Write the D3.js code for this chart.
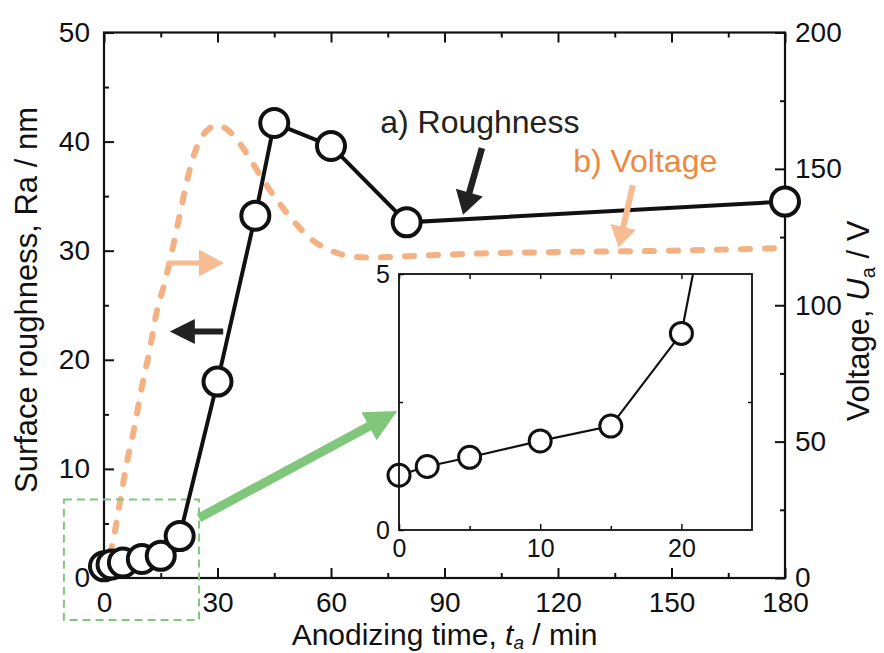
<!DOCTYPE html>
<html><head><meta charset="utf-8">
<script src="https://cdn.jsdelivr.net/npm/d3@7"></script>
<style>
html,body{margin:0;padding:0;background:#fff;}
svg text{font-family:"Liberation Sans",Arial,sans-serif;fill:#111;}
</style></head><body>
<svg id="chart" width="884" height="653"></svg>
<script>
// ---- data ----
const timeRa = [0, 2, 5, 10, 15, 20, 30, 40, 45, 60, 80, 180];
const ra = [1.07, 1.24, 1.42, 1.74, 2.03, 3.84, 18.0, 33.2, 41.7, 39.6, 32.6, 34.5];
const timeV = [0, 1, 2, 3, 4, 6, 8, 10, 12, 14, 16, 18, 20, 22, 24, 26, 28, 30, 32, 35, 38, 42, 46, 50, 55, 60, 65, 70, 80, 100, 120, 150, 180];
const voltage = [0, 5, 11, 18, 26, 42, 55, 70, 83, 98, 108, 120, 133, 146, 156, 162, 165, 166, 165, 161, 155, 146, 138, 131, 124, 120, 118, 117.5, 118, 119, 119.5, 120, 121];
const xTicks = [0, 30, 60, 90, 120, 150, 180];
const xMinor = [15, 45, 75, 105, 135, 165];
const yLeftTicks = [0, 10, 20, 30, 40, 50];
const yLeftMinor = [5, 15, 25, 35, 45];
const yRightTicks = [0, 50, 100, 150, 200];
const yRightMinor = [25, 75, 125, 175];
const insetXTicks = [0, 10, 20];
const insetXMinor = [5, 15];
const insetYTicks = [0, 5];
const insetYMinor = [2.5];
const labelRoughness = "a) Roughness";
const labelVoltage = "b) Voltage";

const svg = d3.select("#chart");
const x = d3.scaleLinear().domain([0, 180]).range([104, 785]);
const yL = d3.scaleLinear().domain([0, 50]).range([578, 32.5]);
const yR = d3.scaleLinear().domain([0, 200]).range([578, 32.5]);

const INK = "#111";
const PEACH = "#F4B183";
const PEACH_ARROW = "#F8BC92";
const ORANGE_TXT = "#F0883E";
const GREEN = "#80C77B";

function styleAxis(g, w) {
  g.select(".domain").remove();
  g.selectAll(".tick line").attr("stroke", INK).attr("stroke-width", w);
  g.selectAll(".tick text").attr("fill", INK);
}

// ---- main axes ----
const fs = 28;
svg.append("g").attr("transform", `translate(0,${yL(0)})`)
  .call(d3.axisBottom(x).tickValues(xTicks).tickSize(-10).tickPadding(14))
  .call(g => styleAxis(g, 2)).attr("font-size", fs);
svg.append("g").attr("transform", `translate(0,${yL(0)})`)
  .call(d3.axisBottom(x).tickValues(xMinor).tickSize(-5).tickFormat(""))
  .call(g => styleAxis(g, 2));
svg.append("g").attr("transform", `translate(0,${yL(50)})`)
  .call(d3.axisTop(x).tickValues(xTicks).tickSize(-10).tickFormat(""))
  .call(g => styleAxis(g, 2));
svg.append("g").attr("transform", `translate(0,${yL(50)})`)
  .call(d3.axisTop(x).tickValues(xMinor).tickSize(-5).tickFormat(""))
  .call(g => styleAxis(g, 2));
svg.append("g").attr("transform", `translate(${x(0)},0)`)
  .call(d3.axisLeft(yL).tickValues(yLeftTicks).tickSize(-10).tickPadding(14))
  .call(g => styleAxis(g, 2)).attr("font-size", fs);
svg.append("g").attr("transform", `translate(${x(0)},0)`)
  .call(d3.axisLeft(yL).tickValues(yLeftMinor).tickSize(-5).tickFormat(""))
  .call(g => styleAxis(g, 2));
svg.append("g").attr("transform", `translate(${x(180)},0)`)
  .call(d3.axisRight(yR).tickValues(yRightTicks).tickSize(-10).tickPadding(10))
  .call(g => styleAxis(g, 2)).attr("font-size", fs);
svg.append("g").attr("transform", `translate(${x(180)},0)`)
  .call(d3.axisRight(yR).tickValues(yRightMinor).tickSize(-5).tickFormat(""))
  .call(g => styleAxis(g, 2));

svg.append("rect").attr("x", x(0)).attr("y", yL(50))
  .attr("width", x(180) - x(0)).attr("height", yL(0) - yL(50))
  .attr("fill", "none").attr("stroke", INK).attr("stroke-width", 2.2);

// axis titles
const tfs = 31;
const xt = svg.append("text").attr("x", (x(0) + x(180)) / 2).attr("y", 645)
  .attr("text-anchor", "middle").attr("font-size", 30);
xt.append("tspan").text("Anodizing time, ");
xt.append("tspan").attr("font-style", "italic").text("t");
xt.append("tspan").attr("font-size", 19).attr("dy", 4).attr("font-style", "italic").text("a");
xt.append("tspan").attr("dy", -4).text(" / min");

svg.append("text").attr("transform", `translate(37,300) rotate(-90)`)
  .attr("text-anchor", "middle").attr("font-size", tfs).text("Surface roughness, Ra / nm");

const yt = svg.append("text").attr("transform", `translate(869,321) rotate(-90)`)
  .attr("text-anchor", "middle").attr("font-size", tfs);
yt.append("tspan").text("Voltage, ");
yt.append("tspan").attr("font-style", "italic").text("U");
yt.append("tspan").attr("font-size", 20).attr("dy", 6).text("a");
yt.append("tspan").attr("dy", -6).text(" / V");

// ---- voltage dashed curve ----
const vLine = d3.line().x((d, i) => x(timeV[i])).y(d => yR(d)).curve(d3.curveMonotoneX);
svg.append("path").datum(voltage).attr("d", vLine)
  .attr("fill", "none").attr("stroke", PEACH).attr("stroke-width", 6)
  .attr("stroke-dasharray", "9,15").attr("stroke-linecap", "round");

// ---- green dashed box ----
svg.append("rect").attr("x", x(-10.6)).attr("y", yL(7.2))
  .attr("width", x(25.1) - x(-10.6)).attr("height", yL(-3.85) - yL(7.2))
  .attr("fill", "none").attr("stroke", GREEN).attr("stroke-width", 2)
  .attr("stroke-dasharray", "8,5");

function arrow(x1, y1, x2, y2, sw, hl, hw, color) {
  const dx = x2 - x1, dy = y2 - y1, L = Math.hypot(dx, dy);
  const ux = dx / L, uy = dy / L, px = -uy, py = ux;
  const bx = x2 - ux * hl, by = y2 - uy * hl;
  const pts = [
    [x1 + px * sw / 2, y1 + py * sw / 2],
    [bx + px * sw / 2, by + py * sw / 2],
    [bx + px * hw / 2, by + py * hw / 2],
    [x2, y2],
    [bx - px * hw / 2, by - py * hw / 2],
    [bx - px * sw / 2, by - py * sw / 2],
    [x1 - px * sw / 2, y1 - py * sw / 2]
  ];
  svg.append("polygon").attr("points", pts.map(p => p.join(",")).join(" ")).attr("fill", color);
}

// ---- main roughness line + markers ----
const rLine = d3.line().x((d, i) => x(timeRa[i])).y(d => yL(d));
svg.append("path").datum(ra).attr("d", rLine)
  .attr("fill", "none").attr("stroke", INK).attr("stroke-width", 4);
svg.append("g").selectAll("circle").data(ra).join("circle")
  .attr("cx", (d, i) => x(timeRa[i])).attr("cy", d => yL(d)).attr("r", 14)
  .attr("fill", "#fff").attr("stroke", INK).attr("stroke-width", 4);

arrow(x(25.1), yL(5.5), x(77.5), yL(15.3), 9, 32, 32, GREEN);

// annotation arrows
arrow(x(31.5), yL(22.6), x(17.4), yL(22.6), 6, 25, 25, "#222");
arrow(x(16.7), yR(115.5), x(31.7), yR(115.5), 5, 25, 27, PEACH_ARROW);
arrow(x(99.9), yL(39.4), x(94.9), yL(33.3), 6.5, 23, 28, "#222");
arrow(x(139.8), yL(36.0), x(136.0), yL(30.3), 6, 21, 26, PEACH_ARROW);

svg.append("text").attr("x", x(73)).attr("y", yL(40.8)).attr("font-size", 32)
  .style("fill", "#222").text(labelRoughness);
svg.append("text").attr("x", x(124)).attr("y", yL(37.2)).attr("font-size", 32)
  .style("fill", ORANGE_TXT).text(labelVoltage);

// ---- inset ----
const ix = d3.scaleLinear().domain([0, 25]).range([399, 752]);
const iy = d3.scaleLinear().domain([0, 5]).range([530, 274]);
const ins = svg.append("g");
ins.append("rect").attr("x", ix(0)).attr("y", iy(5)).attr("width", ix(25) - ix(0))
  .attr("height", iy(0) - iy(5)).attr("fill", "#fff");
const ifs = 25;
ins.append("g").attr("transform", `translate(0,${iy(0)})`)
  .call(d3.axisBottom(ix).tickValues(insetXTicks).tickSize(-6).tickPadding(9).tickFormat(d3.format("d")))
  .call(g => styleAxis(g, 1.5)).attr("font-size", ifs);
ins.append("g").attr("transform", `translate(0,${iy(0)})`)
  .call(d3.axisBottom(ix).tickValues(insetXMinor).tickSize(-4).tickFormat(""))
  .call(g => styleAxis(g, 1.5));
ins.append("g").attr("transform", `translate(0,${iy(5)})`)
  .call(d3.axisTop(ix).tickValues(insetXTicks.concat(insetXMinor)).tickSize(-5).tickFormat(""))
  .call(g => styleAxis(g, 1.5));
ins.append("g").attr("transform", `translate(${ix(0)},0)`)
  .call(d3.axisLeft(iy).tickValues(insetYTicks).tickSize(-5).tickPadding(9).tickFormat(d3.format("d")))
  .call(g => styleAxis(g, 1.5)).attr("font-size", ifs);
ins.append("g").attr("transform", `translate(${ix(0)},0)`)
  .call(d3.axisLeft(iy).tickValues(insetYMinor).tickSize(-4).tickFormat(""))
  .call(g => styleAxis(g, 1.5));
ins.append("g").attr("transform", `translate(${ix(25)},0)`)
  .call(d3.axisRight(iy).tickValues(insetYMinor).tickSize(-4).tickFormat(""))
  .call(g => styleAxis(g, 1.5));

svg.append("clipPath").attr("id", "insclip").append("rect")
  .attr("x", ix(0) - 20).attr("y", iy(5)).attr("width", ix(25) - ix(0) + 20).attr("height", iy(0) - iy(5) + 20);
const iLine = d3.line().x((d, i) => ix(timeRa[i])).y(d => iy(d));
ins.append("path").datum(ra).attr("d", iLine).attr("clip-path", "url(#insclip)")
  .attr("fill", "none").attr("stroke", INK).attr("stroke-width", 2.2);
ins.append("g").selectAll("circle").data(ra.filter((d, i) => timeRa[i] <= 25)).join("circle")
  .attr("cx", (d, i) => ix(timeRa[i])).attr("cy", d => iy(d)).attr("r", 11)
  .attr("fill", "#fff").attr("stroke", INK).attr("stroke-width", 3);
ins.append("rect").attr("x", ix(0)).attr("y", iy(5)).attr("width", ix(25) - ix(0))
  .attr("height", iy(0) - iy(5)).attr("fill", "none").attr("stroke", INK).attr("stroke-width", 1.8);
</script></body></html>
